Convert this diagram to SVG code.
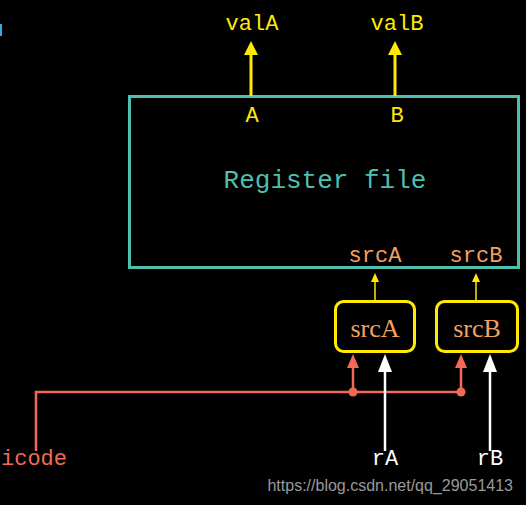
<svg xmlns="http://www.w3.org/2000/svg" width="526" height="505" viewBox="0 0 526 505">
<style>
.mono{font-family:"Liberation Mono","DejaVu Sans Mono",monospace;font-size:22px;text-anchor:middle}
.y{fill:#ffea00}
.o{fill:#f3a060}
.r{fill:#f26a55}
.w{fill:#ffffff}
.t{fill:#4ebfae}
.ser{font-family:"Liberation Serif",serif;font-size:26px;text-anchor:middle}
</style>
<rect width="526" height="505" fill="#000"/>
<rect x="0" y="24" width="2" height="12" fill="#3aa8e0"/>
<g id="regfile">
<rect x="129.5" y="96.5" width="389" height="171" fill="none" stroke="#4ebfae" stroke-width="3"/>
<text class="mono t" x="325" y="188" style="font-size:26px">Register file</text>
<text class="mono y" x="252" y="122">A</text>
<text class="mono y" x="397" y="122">B</text>
<text class="mono o" x="375" y="262">srcA</text>
<text class="mono o" x="476" y="262">srcB</text>
</g>
<g id="srcA">
<rect x="335.5" y="301.5" width="79" height="50" rx="8" fill="none" stroke="#ffea00" stroke-width="3"/>
<text class="ser o" x="375" y="337">srcA</text>
</g>
<g id="srcB">
<rect x="436.5" y="301.5" width="81" height="50" rx="8" fill="none" stroke="#ffea00" stroke-width="3"/>
<text class="ser o" x="477" y="337">srcB</text>
</g>
<g id="labels">
<text class="mono y" x="252" y="30">valA</text>
<text class="mono y" x="397" y="30">valB</text>
<text class="mono r" x="1" y="465" style="text-anchor:start">icode</text>
<text class="mono w" x="385" y="465">rA</text>
<text class="mono w" x="490" y="465">rB</text>
</g>
<g id="connectors">
<g stroke="#ffea00" stroke-width="3">
<line x1="251" y1="96" x2="251" y2="54"/>
<line x1="395" y1="96" x2="395" y2="54"/>
</g>
<polygon points="251,41 244,55 258,55" fill="#ffea00"/>
<polygon points="395,41 388,55 402,55" fill="#ffea00"/>
<g stroke="#ffea00" stroke-width="1.5">
<line x1="375" y1="300" x2="375" y2="280"/>
<line x1="476" y1="300" x2="476" y2="280"/>
</g>
<polygon points="375,273 371,282 379,282" fill="#ffea00"/>
<polygon points="476,273 472,282 480,282" fill="#ffea00"/>
<polyline points="36,451 36,392 461,392" fill="none" stroke="#f26a55" stroke-width="2.5"/>
<g stroke="#f26a55" stroke-width="2.5">
<line x1="353" y1="392" x2="353" y2="366"/>
<line x1="461" y1="392" x2="461" y2="366"/>
</g>
<circle cx="353" cy="392" r="4.5" fill="#f26a55"/>
<circle cx="461" cy="392" r="4.5" fill="#f26a55"/>
<polygon points="353,354 347,368 359,368" fill="#f26a55"/>
<polygon points="461,354 455,368 467,368" fill="#f26a55"/>
<g stroke="#ffffff" stroke-width="2.5">
<line x1="385" y1="451" x2="385" y2="370"/>
<line x1="490" y1="451" x2="490" y2="370"/>
</g>
<polygon points="385,354 378,372 392,372" fill="#ffffff"/>
<polygon points="490,354 483,372 497,372" fill="#ffffff"/>
</g>
<text x="513" y="491" font-family="Liberation Sans,Arial,sans-serif" font-size="16" fill="#9a9a9a" text-anchor="end">https://blog.csdn.net/qq_29051413</text>
</svg>
